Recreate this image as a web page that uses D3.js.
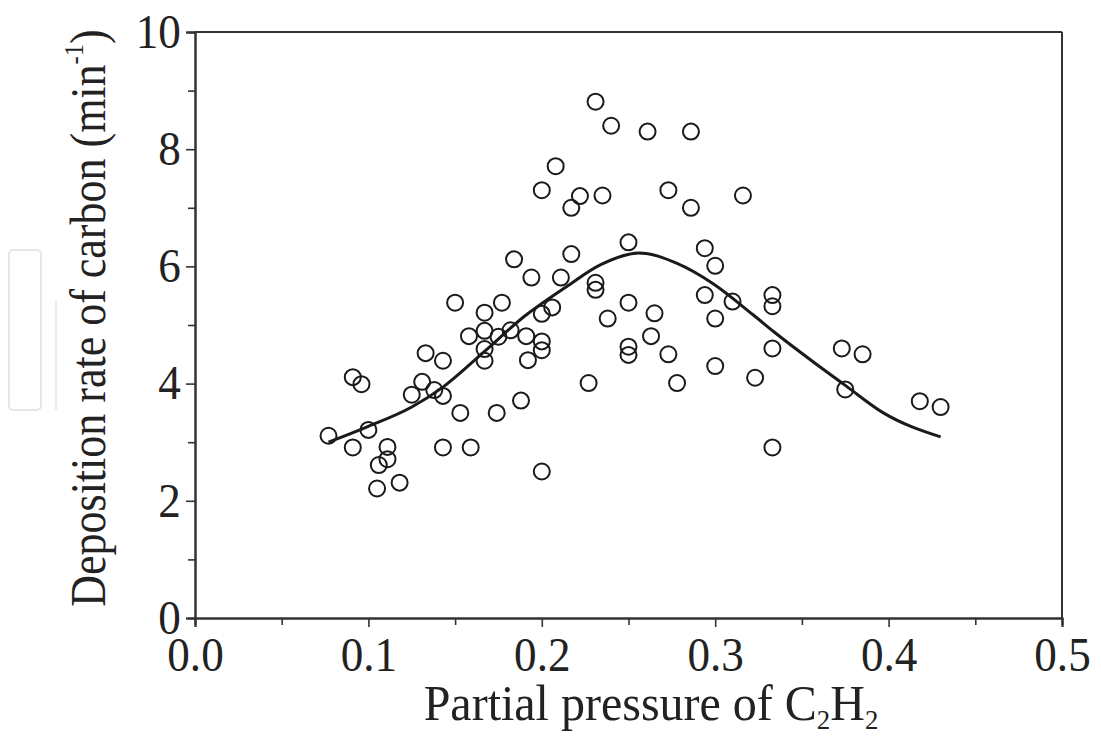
<!DOCTYPE html>
<html><head><meta charset="utf-8">
<script src="https://cdn.jsdelivr.net/npm/d3@7/dist/d3.min.js"></script>
<style>body{margin:0;background:#fff}svg{display:block}text{font-family:"Liberation Serif","DejaVu Serif",serif;fill:#222}</style>
</head><body><div id="chart"></div>
<script>
const xTicks = [0.0, 0.1, 0.2, 0.3, 0.4, 0.5];
const xTickLabels = ["0.0", "0.1", "0.2", "0.3", "0.4", "0.5"];
const yTicks = [0, 2, 4, 6, 8, 10];
const yTickLabels = ["0", "2", "4", "6", "8", "10"];
const pressure = [0.077,0.091,0.091,0.096,0.100,0.105,0.106,0.111,0.111,0.118,0.125,0.131,0.133,0.138,0.143,0.143,0.143,0.150,0.153,0.158,0.159,0.167,0.167,0.167,0.167,0.174,0.175,0.177,0.182,0.184,0.188,0.191,0.192,0.194,0.200,0.200,0.200,0.200,0.200,0.206,0.208,0.211,0.217,0.217,0.222,0.227,0.231,0.231,0.231,0.235,0.238,0.240,0.250,0.250,0.250,0.250,0.261,0.263,0.265,0.273,0.273,0.278,0.286,0.286,0.294,0.294,0.300,0.300,0.300,0.310,0.316,0.323,0.333,0.333,0.333,0.333,0.373,0.375,0.385,0.418,0.430];
const rate = [3.11,2.91,4.11,3.99,3.21,2.21,2.61,2.71,2.92,2.31,3.81,4.03,4.52,3.89,3.79,4.39,2.91,5.38,3.50,4.81,2.91,5.21,4.90,4.59,4.39,3.50,4.80,5.38,4.91,6.12,3.71,4.81,4.40,5.81,7.30,5.19,4.72,4.57,2.50,5.30,7.71,5.81,7.00,6.21,7.20,4.01,8.81,5.72,5.60,7.21,5.11,8.40,6.41,5.38,4.63,4.49,8.30,4.81,5.20,7.30,4.50,4.01,8.30,7.00,6.31,5.51,6.01,5.11,4.30,5.40,7.21,4.10,5.51,5.32,4.60,2.91,4.60,3.90,4.50,3.70,3.60];
const fitX = [0.077,0.100,0.125,0.143,0.167,0.190,0.214,0.234,0.256,0.278,0.299,0.322,0.334,0.357,0.375,0.397,0.430];
const fitY = [3.00,3.27,3.60,3.94,4.55,5.15,5.65,6.03,6.23,6.05,5.70,5.17,4.88,4.36,3.97,3.50,3.09];

const W = 1101, H = 736;
const m = {left:195, right:1062, top:32, bottom:618};
const svg = d3.select("#chart").append("svg").attr("width",W).attr("height",H);

// faint watermark shapes at left edge
svg.append("rect").attr("x",9).attr("y",250).attr("width",32).attr("height",160).attr("rx",4)
  .attr("fill","none").attr("stroke","#e6e6e6").attr("stroke-width",2);
svg.append("line").attr("x1",56).attr("x2",56).attr("y1",300).attr("y2",410).attr("stroke","#ececec").attr("stroke-width",2);

const x = d3.scaleLinear().domain([0,0.5]).range([m.left,m.right]);
const y = d3.scaleLinear().domain([0,10]).range([m.bottom,m.top]);

// frame top/right
svg.append("line").attr("x1",m.left).attr("x2",m.right).attr("y1",m.top).attr("y2",m.top).attr("stroke","#333").attr("stroke-width",2);
svg.append("line").attr("x1",m.right).attr("x2",m.right).attr("y1",m.top).attr("y2",m.bottom).attr("stroke","#333").attr("stroke-width",2);

// minor ticks
const gx = svg.append("g").attr("transform",`translate(0,${m.bottom})`)
  .call(d3.axisBottom(x).tickValues(d3.range(0.05,0.5,0.1)).tickSize(7).tickFormat(""));
const gy = svg.append("g").attr("transform",`translate(${m.left},0)`)
  .call(d3.axisLeft(y).tickValues([1,3,5,7,9]).tickSize(7).tickFormat(""));
// major ticks
const gx2 = svg.append("g").attr("transform",`translate(0,${m.bottom})`)
  .call(d3.axisBottom(x).tickValues(xTicks).tickSize(9).tickPadding(10).tickFormat((d,i)=>xTickLabels[i]));
const gy2 = svg.append("g").attr("transform",`translate(${m.left},0)`)
  .call(d3.axisLeft(y).tickValues(yTicks).tickSize(9).tickPadding(6).tickFormat((d,i)=>yTickLabels[i]));
[gx,gy,gx2,gy2].forEach(g=>{
  g.selectAll("path").attr("stroke","#333").attr("stroke-width",2);
  g.selectAll("line").attr("stroke","#333").attr("stroke-width",1.6);
  g.selectAll("text").style("font-family","'Liberation Serif',serif").style("font-size","48px").attr("fill","#222")
    .attr("transform","scale(0.94,1)");
});
gx2.selectAll("text").attr("dy","0.71em");
gy2.selectAll("text").attr("dy","0.32em");

// fit curve
const fit = fitX.map((v,i)=>[v,fitY[i]]);
svg.append("path").datum(fit)
  .attr("d",d3.line().x(d=>x(d[0])).y(d=>y(d[1])).curve(d3.curveMonotoneX))
  .attr("fill","none").attr("stroke","#1a1a1a").attr("stroke-width",3);

// points
svg.append("g").selectAll("circle").data(pressure.map((v,i)=>[v,rate[i]])).join("circle")
  .attr("cx",d=>x(d[0])).attr("cy",d=>y(d[1])).attr("r",8)
  .attr("fill","none").attr("stroke","#1a1a1a").attr("stroke-width",2);

// axis titles
const xt = svg.append("g").attr("transform","translate(651,720) scale(0.96,1)")
  .append("text").attr("text-anchor","middle").style("font-size","50px");
xt.append("tspan").text("Partial pressure of C");
xt.append("tspan").text("2").style("font-size","28px").attr("dy","9");
xt.append("tspan").text("H").attr("dy","-9");
xt.append("tspan").text("2").style("font-size","28px").attr("dy","9");

const yt = svg.append("g").attr("transform","translate(105,318) rotate(-90) scale(0.88,1)")
  .append("text").attr("text-anchor","middle").style("font-size","50px");
yt.append("tspan").text("Deposition rate of carbon (min");
yt.append("tspan").text("-1").style("font-size","28px").attr("dy","-22");
yt.append("tspan").text(")").attr("dy","22");
</script></body></html>
